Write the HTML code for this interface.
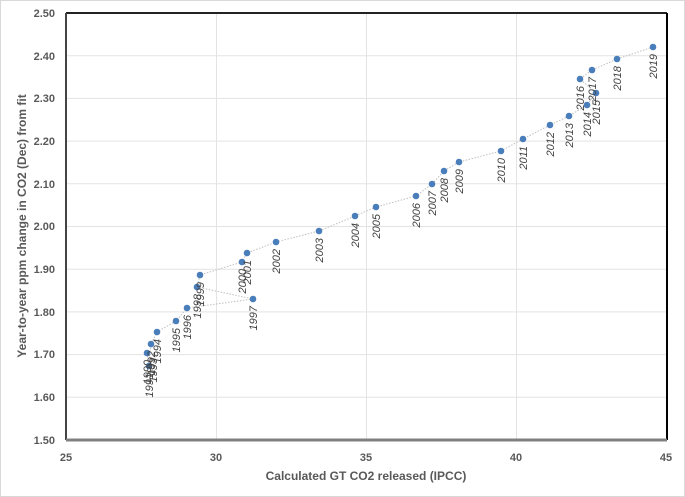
<!DOCTYPE html><html><head><style>body{margin:0;background:#fff}svg{display:block;font-family:"Liberation Sans",sans-serif}</style></head><body>
<svg width="685" height="497" viewBox="0 0 685 497">
<rect x="0.5" y="0.5" width="684" height="496" fill="#fff" stroke="#d9d9d9"/>
<g stroke="#e3e3e3" stroke-width="1">
<line x1="216.5" y1="13" x2="216.5" y2="440"/><line x1="366.5" y1="13" x2="366.5" y2="440"/><line x1="516.5" y1="13" x2="516.5" y2="440"/>
<line x1="66" y1="55.7" x2="667" y2="55.7"/><line x1="66" y1="98.4" x2="667" y2="98.4"/><line x1="66" y1="141.1" x2="667" y2="141.1"/><line x1="66" y1="183.8" x2="667" y2="183.8"/><line x1="66" y1="226.5" x2="667" y2="226.5"/><line x1="66" y1="269.2" x2="667" y2="269.2"/><line x1="66" y1="311.9" x2="667" y2="311.9"/><line x1="66" y1="354.6" x2="667" y2="354.6"/><line x1="66" y1="397.3" x2="667" y2="397.3"/>
</g>
<line x1="66" y1="13" x2="667" y2="13" stroke="#222" stroke-width="2"/>
<line x1="667" y1="13" x2="667" y2="440" stroke="#000" stroke-width="2"/>
<line x1="66" y1="13" x2="66" y2="440" stroke="#444" stroke-width="2"/>
<line x1="66" y1="440" x2="667" y2="440" stroke="#808080" stroke-width="3"/>
<g font-size="11" font-weight="bold" fill="#595959" text-anchor="end">
<text x="55" y="17">2.50</text><text x="55" y="60">2.40</text><text x="55" y="102">2.30</text><text x="55" y="145">2.20</text><text x="55" y="188">2.10</text><text x="55" y="230">2.00</text><text x="55" y="273">1.90</text><text x="55" y="316">1.80</text><text x="55" y="358">1.70</text><text x="55" y="401">1.60</text><text x="55" y="444">1.50</text>
</g>
<g font-size="11" font-weight="bold" fill="#595959" text-anchor="middle">
<text x="66" y="461">25</text><text x="216" y="461">30</text><text x="366" y="461">35</text><text x="516" y="461">40</text><text x="666" y="461">45</text>
</g>
<text x="366" y="480" font-size="12" font-weight="bold" fill="#595959" text-anchor="middle">Calculated GT CO2 released (IPCC)</text>
<text transform="translate(26,226) rotate(-90)" font-size="12" font-weight="bold" fill="#595959" text-anchor="middle">Year-to-year ppm change in CO2 (Dec) from fit</text>
<polyline fill="none" stroke="#bfbfbf" stroke-dasharray="1.5,1.5" points="147,353 149,366 151,344 157,332 176,321 187,308 253,299 197,287 200,275 242,262 247,253 276,242 319,231 355,216 376,207 416,196 432,184 444,171 459,162 501,151 523,139 550,125 569,116 587,105 596,93 580,79 592,70 617,59 653,47"/>
<g fill="#4a7ebb">
<circle cx="147" cy="353" r="3.3"/><circle cx="149" cy="366" r="3.3"/><circle cx="151" cy="344" r="3.3"/><circle cx="157" cy="332" r="3.3"/><circle cx="176" cy="321" r="3.3"/><circle cx="187" cy="308" r="3.3"/><circle cx="253" cy="299" r="3.3"/><circle cx="197" cy="287" r="3.3"/><circle cx="200" cy="275" r="3.3"/><circle cx="242" cy="262" r="3.3"/><circle cx="247" cy="253" r="3.3"/><circle cx="276" cy="242" r="3.3"/><circle cx="319" cy="231" r="3.3"/><circle cx="355" cy="216" r="3.3"/><circle cx="376" cy="207" r="3.3"/><circle cx="416" cy="196" r="3.3"/><circle cx="432" cy="184" r="3.3"/><circle cx="444" cy="171" r="3.3"/><circle cx="459" cy="162" r="3.3"/><circle cx="501" cy="151" r="3.3"/><circle cx="523" cy="139" r="3.3"/><circle cx="550" cy="125" r="3.3"/><circle cx="569" cy="116" r="3.3"/><circle cx="587" cy="105" r="3.3"/><circle cx="596" cy="93" r="3.3"/><circle cx="580" cy="79" r="3.3"/><circle cx="592" cy="70" r="3.3"/><circle cx="617" cy="59" r="3.3"/><circle cx="653" cy="47" r="3.3"/>
</g>
<g font-size="11" font-style="italic" fill="#404040" text-anchor="end">
<text transform="translate(151,360) rotate(-90)">1990</text>
<text transform="translate(153,373) rotate(-90)">1991</text>
<text transform="translate(155,351) rotate(-90)">1992</text>
<text transform="translate(157,358) rotate(-90)">1993</text>
<text transform="translate(161,339) rotate(-90)">1994</text>
<text transform="translate(180,328) rotate(-90)">1995</text>
<text transform="translate(191,315) rotate(-90)">1996</text>
<text transform="translate(257,306) rotate(-90)">1997</text>
<text transform="translate(201,294) rotate(-90)">1998</text>
<text transform="translate(204,282) rotate(-90)">1999</text>
<text transform="translate(246,269) rotate(-90)">2000</text>
<text transform="translate(251,260) rotate(-90)">2001</text>
<text transform="translate(280,249) rotate(-90)">2002</text>
<text transform="translate(323,238) rotate(-90)">2003</text>
<text transform="translate(359,223) rotate(-90)">2004</text>
<text transform="translate(380,214) rotate(-90)">2005</text>
<text transform="translate(420,203) rotate(-90)">2006</text>
<text transform="translate(436,191) rotate(-90)">2007</text>
<text transform="translate(448,178) rotate(-90)">2008</text>
<text transform="translate(463,169) rotate(-90)">2009</text>
<text transform="translate(505,158) rotate(-90)">2010</text>
<text transform="translate(527,146) rotate(-90)">2011</text>
<text transform="translate(554,132) rotate(-90)">2012</text>
<text transform="translate(573,123) rotate(-90)">2013</text>
<text transform="translate(591,112) rotate(-90)">2014</text>
<text transform="translate(600,100) rotate(-90)">2015</text>
<text transform="translate(584,86) rotate(-90)">2016</text>
<text transform="translate(596,77) rotate(-90)">2017</text>
<text transform="translate(621,66) rotate(-90)">2018</text>
<text transform="translate(657,54) rotate(-90)">2019</text>
</g>
</svg></body></html>
